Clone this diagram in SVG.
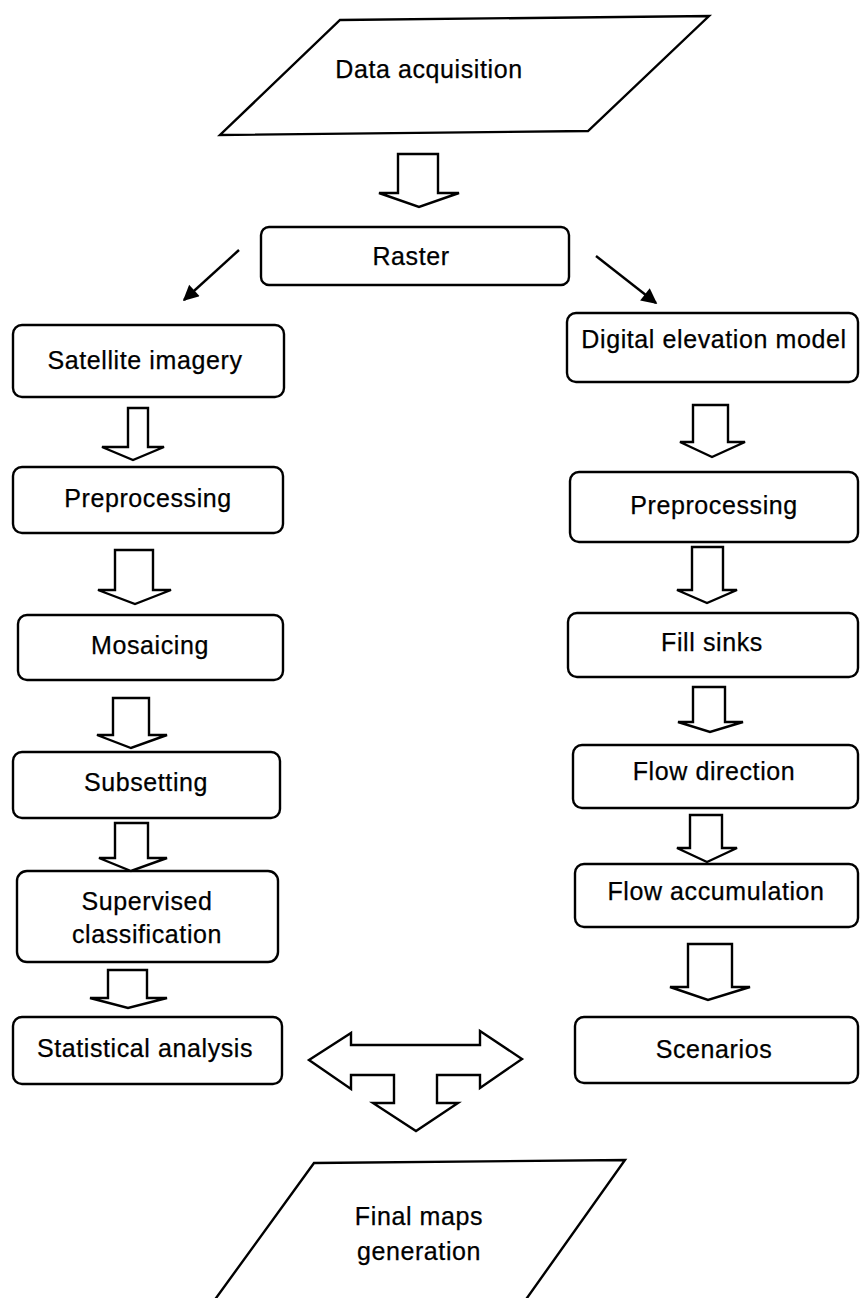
<svg xmlns="http://www.w3.org/2000/svg" width="861" height="1298" viewBox="0 0 861 1298">
<style>
.box{fill:#fff;stroke:#000;stroke-width:2.4}
.blk{fill:#fff;stroke:#000;stroke-width:2.4;stroke-linejoin:miter}
.t{font-family:"Liberation Sans",Arial,sans-serif;font-size:25px;letter-spacing:0.6px;fill:#000;stroke:#000;stroke-width:0.25;text-anchor:middle}
.ln{stroke:#000;stroke-width:2.4;fill:none}
</style>
<defs>
<marker id="ah" viewBox="0 0 10 10" refX="9" refY="5" markerWidth="7.5" markerHeight="6.5" markerUnits="strokeWidth" orient="auto">
<path d="M0,0 L10,5 L0,10 Z" fill="#000"/>
</marker>
</defs>
<rect width="861" height="1298" fill="#fff"/>

<g id="data-acquisition">
<polygon class="box" points="340,20 709,16 588,131 220,135"/>
<text class="t" x="429" y="78">Data acquisition</text>
</g>
<g id="raster">
<rect class="box" x="261" y="227" width="308" height="58" rx="8"/>
<text class="t" x="411" y="265">Raster</text>
</g>

<g id="satellite-imagery">
<rect class="box" x="13" y="325" width="271" height="72" rx="9"/>
<text class="t" x="145" y="369">Satellite imagery</text>
</g>
<g id="preprocessing-left">
<rect class="box" x="13" y="467" width="270" height="66" rx="9"/>
<text class="t" x="148" y="507">Preprocessing</text>
</g>
<g id="mosaicing">
<rect class="box" x="18" y="615" width="265" height="65" rx="9"/>
<text class="t" x="150" y="654">Mosaicing</text>
</g>
<g id="subsetting">
<rect class="box" x="13" y="752" width="267" height="66" rx="9"/>
<text class="t" x="146" y="791">Subsetting</text>
</g>
<g id="supervised-classification">
<rect class="box" x="17" y="871" width="261" height="91" rx="10"/>
<text class="t" x="147" y="910">Supervised</text>
<text class="t" x="147" y="943">classification</text>
</g>
<g id="statistical-analysis">
<rect class="box" x="13" y="1017" width="269" height="67" rx="9"/>
<text class="t" x="145" y="1057">Statistical analysis</text>
</g>

<g id="digital-elevation-model">
<rect class="box" x="567" y="313" width="291" height="69" rx="9"/>
<text class="t" x="714" y="348">Digital elevation model</text>
</g>
<g id="preprocessing-right">
<rect class="box" x="570" y="472" width="288" height="70" rx="9"/>
<text class="t" x="714" y="514">Preprocessing</text>
</g>
<g id="fill-sinks">
<rect class="box" x="568" y="613" width="290" height="64" rx="9"/>
<text class="t" x="712" y="651">Fill sinks</text>
</g>
<g id="flow-direction">
<rect class="box" x="573" y="745" width="285" height="63" rx="9"/>
<text class="t" x="714" y="780">Flow direction</text>
</g>
<g id="flow-accumulation">
<rect class="box" x="575" y="864" width="283" height="63" rx="9"/>
<text class="t" x="716" y="900">Flow accumulation</text>
</g>
<g id="scenarios">
<rect class="box" x="575" y="1017" width="283" height="66" rx="9"/>
<text class="t" x="714" y="1058">Scenarios</text>
</g>

<g id="final-maps-generation">
<polygon class="box" points="314,1163 625,1160 522,1305 211,1305"/>
<text class="t" x="419" y="1225">Final maps</text>
<text class="t" x="419" y="1260">generation</text>
</g>

<g id="connectors">
<path class="blk" d="M398,154 L438,154 L438,193 L459,193 L419,207 L379,193 L398,193 Z"/>
<line class="ln" x1="239" y1="250" x2="184" y2="300" marker-end="url(#ah)"/>
<line class="ln" x1="596" y1="256" x2="656" y2="303" marker-end="url(#ah)"/>

<path class="blk" d="M128,408 L148,408 L148,447 L164,447 L133,460 L102,447 L128,447 Z"/>
<path class="blk" d="M115,550 L153,550 L153,590 L171,590 L135,604 L98,590 L115,590 Z"/>
<path class="blk" d="M113,698 L149,698 L149,735 L167,735 L131,748 L97,735 L113,735 Z"/>
<path class="blk" d="M115,823 L148,823 L148,858 L167,858 L131,871 L99,858 L115,858 Z"/>
<path class="blk" d="M108,970 L147,970 L147,998 L167,998 L128,1008 L90,998 L108,998 Z"/>

<path class="blk" d="M693,405 L728,405 L728,442 L745,442 L712,457 L680,442 L693,442 Z"/>
<path class="blk" d="M692,547 L723,547 L723,590 L737,590 L707,603 L677,590 L692,590 Z"/>
<path class="blk" d="M693,687 L725,687 L725,722 L743,722 L710,732 L678,722 L693,722 Z"/>
<path class="blk" d="M690,815 L722,815 L722,848 L737,848 L707,862 L677,848 L690,848 Z"/>
<path class="blk" d="M688,944 L732,944 L732,987 L750,987 L708,1000 L670,987 L688,987 Z"/>

<path class="blk" d="M309,1060 L351,1033 L351,1045 L480,1045 L480,1031 L522,1059 L480,1088 L480,1075 L437,1075 L437,1103 L458,1103 L416,1131 L373,1103 L394,1103 L394,1075 L351,1075 L351,1089 Z"/>
</g>
</svg>
